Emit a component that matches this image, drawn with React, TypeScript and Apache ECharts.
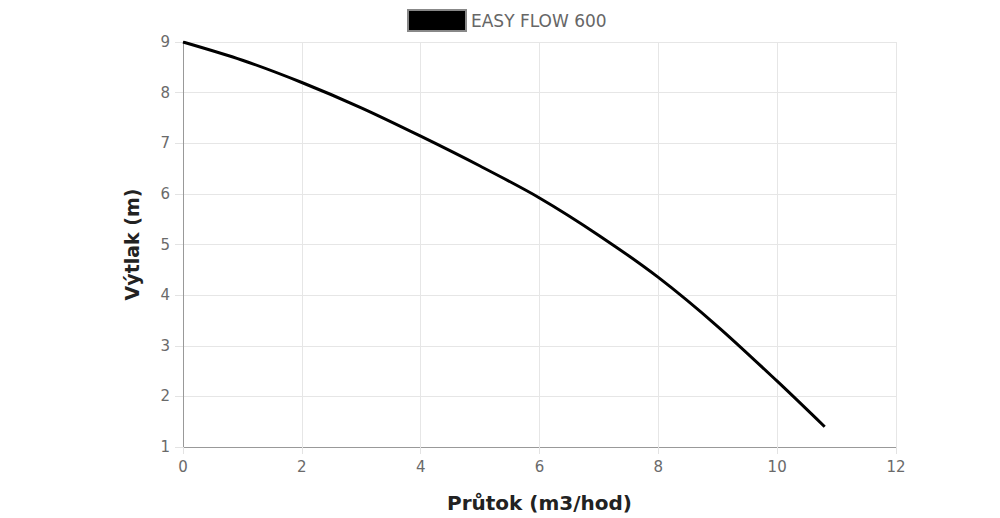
import { useEffect, useRef } from 'react';
import * as echarts from 'echarts';

// Pump curve: flow (m3/hod) vs head (m)
const flow = [0, 1, 2, 3, 4, 5, 6, 7, 8, 9, 10, 10.8];
const head = [9, 8.64, 8.2, 7.7, 7.14, 6.55, 5.92, 5.18, 4.35, 3.38, 2.3, 1.4];
const seriesName = 'EASY FLOW 600';

const fontFamily = '"DejaVu Sans", "Open Sans", sans-serif';

export default function App() {
    const chartRef = useRef<HTMLDivElement>(null);

    useEffect(() => {
        if (!chartRef.current) return;
        const chart = echarts.init(chartRef.current, null, { renderer: 'svg' });
        const option = {
            animation: false,
            textStyle: { fontFamily },
            legend: {
                top: 4,
                left: 402,
                itemWidth: 58,
                itemHeight: 21,
                itemGap: 8,
                icon: 'rect',
                data: [seriesName],
                textStyle: { color: '#666', fontSize: 17, fontFamily }
            },
            grid: {
                left: 183,
                right: 104,
                top: 42,
                bottom: 71
            },
            xAxis: {
                type: 'value',
                min: 0,
                max: 12,
                interval: 2,
                name: 'Průtok (m3/hod)',
                nameLocation: 'middle',
                nameGap: 46,
                nameTextStyle: { color: '#222', fontSize: 20, fontWeight: 'bold', fontFamily },
                axisLine: { show: true, lineStyle: { color: '#999', width: 1 } },
                axisTick: { show: true, length: 7, lineStyle: { color: '#e3e3e3' } },
                axisLabel: { color: '#6a6a6a', fontSize: 15, margin: 12 },
                splitLine: { show: true, lineStyle: { color: '#e6e6e6' } }
            },
            yAxis: {
                type: 'value',
                min: 1,
                max: 9,
                interval: 1,
                name: 'Výtlak (m)',
                nameLocation: 'middle',
                nameGap: 42,
                nameTextStyle: { color: '#222', fontSize: 19, fontWeight: 'bold', fontFamily },
                axisLine: { show: true, lineStyle: { color: '#999', width: 1 } },
                axisTick: { show: true, length: 8, lineStyle: { color: '#e3e3e3' } },
                axisLabel: { color: '#6a6a6a', fontSize: 15, margin: 13 },
                splitLine: { show: true, lineStyle: { color: '#e6e6e6' } }
            },
            series: [
                {
                    name: seriesName,
                    type: 'line',
                    smooth: 0.3,
                    showSymbol: false,
                    data: flow.map((f, i) => [f, head[i]]),
                    lineStyle: { color: '#000', width: 3 },
                    itemStyle: { color: '#000', borderColor: '#888', borderWidth: 1 }
                }
            ]
        };
        chart.setOption(option);
        return () => chart.dispose();
    }, []);

    return (
        <div
            ref={chartRef}
            style={{ position: 'fixed', left: 0, top: 0, width: '1000px', height: '518px', background: '#fff' }}
        ></div>
    );
}
